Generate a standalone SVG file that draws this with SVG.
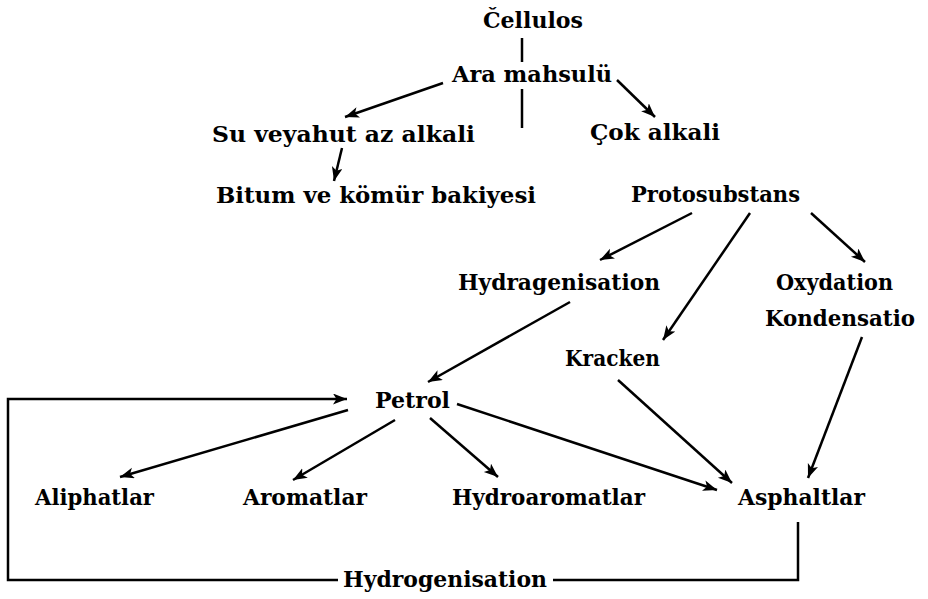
<svg xmlns="http://www.w3.org/2000/svg" width="928" height="599" viewBox="0 0 928 599">
<style>
text{font-family:"DejaVu Serif","Liberation Serif",serif;font-weight:bold;font-size:22.5px;fill:#000}
.c line,.c polyline{stroke:#000;stroke-width:2.5;fill:none}
.a{marker-end:url(#ah)}
</style>
<defs>
<marker id="ah" markerUnits="userSpaceOnUse" markerWidth="16" markerHeight="12" refX="14" refY="5.5" orient="auto">
<path d="M0,0 L14,5.5 L0,11 L3.5,5.5 z" fill="#000"/>
</marker>
</defs>
<rect width="928" height="599" fill="#fff"/>
<g class="c" id="connectors">
<line x1="522" y1="38" x2="522" y2="62"/>
<line x1="522" y1="89" x2="522" y2="128"/>
<line class="a" x1="443" y1="83" x2="345" y2="117"/>
<line class="a" x1="617" y1="80" x2="655" y2="117"/>
<line class="a" x1="342" y1="148" x2="334" y2="181"/>
<line class="a" x1="692" y1="213" x2="600" y2="260"/>
<line class="a" x1="750" y1="213" x2="663" y2="340"/>
<line class="a" x1="811" y1="213" x2="865" y2="262"/>
<line class="a" x1="570" y1="302" x2="428" y2="382"/>
<line class="a" x1="618" y1="380" x2="732" y2="483"/>
<line class="a" x1="862" y1="337" x2="808" y2="478"/>
<line class="a" x1="457" y1="404" x2="717" y2="490"/>
<line class="a" x1="348" y1="410" x2="120" y2="477"/>
<line class="a" x1="395" y1="420" x2="293" y2="480"/>
<line class="a" x1="430" y1="418" x2="498" y2="477"/>
<polyline points="798,522 798,580 553,580"/>
<polyline class="a" points="338,580 8,580 8,399 347,399"/>
</g>
<g id="cellulos"><text x="483" y="28" textLength="100" lengthAdjust="spacingAndGlyphs">Čellulos</text></g>
<g id="ara"><text x="452" y="82" textLength="160" lengthAdjust="spacingAndGlyphs">Ara mahsulü</text></g>
<g id="su"><text x="212" y="142" textLength="263" lengthAdjust="spacingAndGlyphs">Su veyahut az alkali</text></g>
<g id="cok"><text x="590" y="140" textLength="130" lengthAdjust="spacingAndGlyphs">Çok alkali</text></g>
<g id="bitum"><text x="216" y="203" textLength="320" lengthAdjust="spacingAndGlyphs">Bitum ve kömür bakiyesi</text></g>
<g id="proto"><text x="631" y="202" textLength="169" lengthAdjust="spacingAndGlyphs">Protosubstans</text></g>
<g id="hydra"><text x="458" y="290" textLength="202" lengthAdjust="spacingAndGlyphs">Hydragenisation</text></g>
<g id="oxy"><text x="776" y="290" textLength="117" lengthAdjust="spacingAndGlyphs">Oxydation</text><text x="765" y="326" textLength="150" lengthAdjust="spacingAndGlyphs">Kondensatio</text></g>
<g id="kracken"><text x="565" y="366" textLength="95" lengthAdjust="spacingAndGlyphs">Kracken</text></g>
<g id="petrol"><text x="375" y="408" textLength="75" lengthAdjust="spacingAndGlyphs">Petrol</text></g>
<g id="aliphatlar"><text x="35" y="505" textLength="119" lengthAdjust="spacingAndGlyphs">Aliphatlar</text></g>
<g id="aromatlar"><text x="243" y="505" textLength="124" lengthAdjust="spacingAndGlyphs">Aromatlar</text></g>
<g id="hydroaromatlar"><text x="452" y="505" textLength="193" lengthAdjust="spacingAndGlyphs">Hydroaromatlar</text></g>
<g id="asphaltlar"><text x="738" y="505" textLength="127" lengthAdjust="spacingAndGlyphs">Asphaltlar</text></g>
<g id="hydrogenisation"><text x="343" y="587" textLength="204" lengthAdjust="spacingAndGlyphs">Hydrogenisation</text></g>
</svg>
